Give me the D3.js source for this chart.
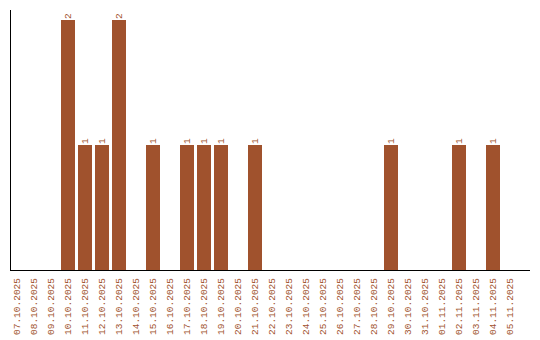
<!DOCTYPE html>
<html><head><meta charset="utf-8">
<script src="https://cdn.jsdelivr.net/npm/d3@7"></script>
<style>body{margin:0;background:#fff}svg{display:block}</style>
</head><body>
<svg id="c" width="540" height="340"></svg>
<script>
const categories = ["07.10.2025","08.10.2025","09.10.2025","10.10.2025","11.10.2025","12.10.2025","13.10.2025","14.10.2025","15.10.2025","16.10.2025","17.10.2025","18.10.2025","19.10.2025","20.10.2025","21.10.2025","22.10.2025","23.10.2025","24.10.2025","25.10.2025","26.10.2025","27.10.2025","28.10.2025","29.10.2025","30.10.2025","31.10.2025","01.11.2025","02.11.2025","03.11.2025","04.11.2025","05.11.2025"];
const values = [0,0,0,2,1,1,2,0,1,0,1,1,1,0,1,0,0,0,0,0,0,0,1,0,0,0,1,0,1,0];

const svg = d3.select("#c");
const color = "#a0522d";
const mLeft = 10, mRight = 520, axisRight = 530, mTop = 10, mBottom = 270;
const x = d3.scaleBand().domain(categories).range([mLeft, mRight]).padding(0);
const y = d3.scaleLinear().domain([0, 2]).range([mBottom, 20]);
const bw = x.bandwidth() - 3;
const font = "'Liberation Mono', monospace";

const data = categories.map((c, i) => ({c, v: values[i]}));
svg.selectAll("rect.bar").data(data.filter(d => d.v > 0)).join("rect")
  .attr("class", "bar")
  .attr("x", d => x(d.c)).attr("width", bw)
  .attr("y", d => y(d.v)).attr("height", d => y(0) - y(d.v))
  .attr("fill", color);

svg.selectAll("text.val").data(data.filter(d => d.v > 0)).join("text")
  .attr("class", "val")
  .attr("transform", d => `translate(${x(d.c) + bw / 2 + 3},${y(d.v) - 1}) rotate(-90)`)
  .attr("font-family", font).attr("font-size", 9.5).attr("fill", color)
  .text(d => d.v);

svg.selectAll("text.cat").data(categories).join("text")
  .attr("class", "cat")
  .attr("transform", d => `translate(${x(d) + bw / 2 + 3},${mBottom + 8}) rotate(-90)`)
  .attr("text-anchor", "end")
  .attr("font-family", font).attr("font-size", 9.5).attr("fill", color)
  .text(d => d);

svg.append("line").attr("x1", mLeft + 0.5).attr("x2", mLeft + 0.5).attr("y1", mTop).attr("y2", mBottom)
  .attr("stroke", "#000");
svg.append("line").attr("x1", mLeft).attr("x2", axisRight).attr("y1", mBottom + 0.5).attr("y2", mBottom + 0.5)
  .attr("stroke", "#000");
</script>
</body></html>
